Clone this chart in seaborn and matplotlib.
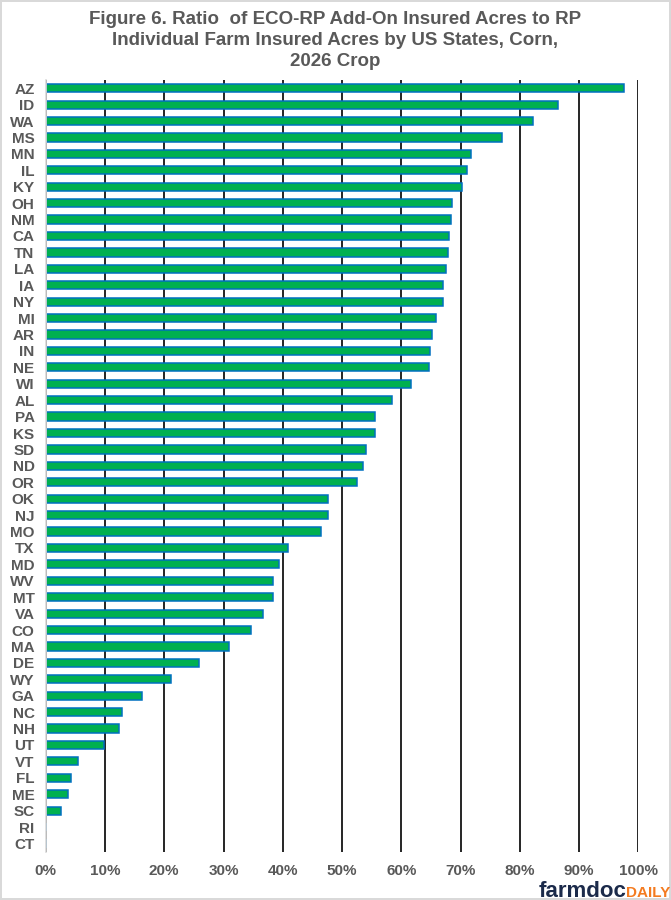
import numpy as np
import pandas as pd
import matplotlib
matplotlib.use("Agg")
import matplotlib.pyplot as plt
import seaborn as sns
from matplotlib.ticker import PercentFormatter

states = ["AZ", "ID", "WA", "MS", "MN", "IL", "KY", "OH", "NM", "CA", "TN", "LA",
          "IA", "NY", "MI", "AR", "IN", "NE", "WI", "AL", "PA", "KS", "SD", "ND",
          "OR", "OK", "NJ", "MO", "TX", "MD", "WV", "MT", "VA", "CO", "MA", "DE",
          "WY", "GA", "NC", "NH", "UT", "VT", "FL", "ME", "SC", "RI", "CT"]
ratio = [97.6, 86.5, 82.3, 77.0, 71.7, 71.0, 70.2, 68.5, 68.3, 68.0, 67.8, 67.6,
         67.1, 67.1, 65.9, 65.1, 64.8, 64.6, 61.7, 58.5, 55.5, 55.5, 54.0, 53.6,
         52.6, 47.7, 47.6, 46.4, 40.8, 39.3, 38.4, 38.3, 36.6, 34.6, 31.0, 25.8,
         21.2, 16.2, 12.8, 12.3, 9.8, 5.4, 4.2, 3.8, 2.5, 0.0, 0.0]

df = pd.DataFrame({"state": states, "ratio": np.array(ratio) / 100})

sns.set_theme(style="white")
plt.rcParams["font.family"] = ["Liberation Sans", "DejaVu Sans"]

gray = "#595959"
fig = plt.figure(figsize=(6.71, 9.0), dpi=100)
fig.patch.set_edgecolor("#D9D9D9")
fig.patch.set_linewidth(1.5)
ax = fig.add_axes([0.0681, 0.0537, 0.8833, 0.8574])

sns.barplot(data=df, x="ratio", y="state", orient="h", color="#00B050",
            edgecolor="#0070C0", linewidth=1.1, width=0.5, saturation=1, ax=ax)

ax.set_xlim(0, 1.0)
ax.set_ylim(len(states) - 0.5, -0.5)
ax.set_xticks(np.arange(0, 1.01, 0.1))
ax.xaxis.set_major_formatter(PercentFormatter(1.0, decimals=0))
ax.grid(axis="x", color="black", linewidth=1.2)
ax.set_axisbelow(True)
for side in ["top", "right", "bottom"]:
    ax.spines[side].set_visible(False)
ax.spines["left"].set_color("#D9D9D9")
ax.spines["left"].set_linewidth(1.2)
ax.set_xlabel("")
ax.set_ylabel("")
ax.tick_params(axis="both", length=0, labelcolor=gray, labelsize=11)
ax.tick_params(axis="x", pad=9)
ax.tick_params(axis="y", pad=8)
for lab in ax.get_xticklabels() + ax.get_yticklabels():
    lab.set_fontweight("bold")

fig.text(0.5, 0.988, "Figure 6. Ratio  of ECO-RP Add-On Insured Acres to RP\n"
         "Individual Farm Insured Acres by US States, Corn,\n2026 Crop",
         ha="center", va="top", fontsize=13.5, fontweight="bold", color=gray,
         linespacing=1.3)

# farmdocDAILY logo
fig.text(0.933, 0.0035, "farmdoc", ha="right", va="baseline", fontsize=16,
         fontweight="bold", color="#1B2A4A")
fig.text(0.933, 0.0035, "DAILY", ha="left", va="baseline", fontsize=11,
         fontweight="bold", color="#F47B20")

fig.savefig("out.png", dpi=100)
